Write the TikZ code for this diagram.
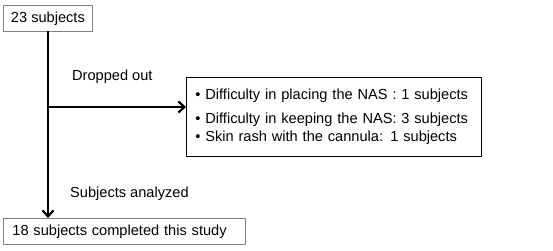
\documentclass[tikz,border=0pt]{standalone}
\usepackage{fontspec}
\setmainfont{Liberation Sans}
\usetikzlibrary{arrows.meta,positioning}
\begin{document}
\begin{tikzpicture}[x=1pt,y=-1pt,line cap=round,line join=round]
  \tikzset{
    stagebox/.style={draw=gray,line width=0.8pt,anchor=north west,inner ysep=0pt,inner xsep=9pt,
      font=\fontsize{14.6}{17}\selectfont},
    flow/.style={draw=black,line width=2.6pt,-{Straight Barb[length=6pt,width=11pt,line width=2.2pt]}},
    flowlabel/.style={anchor=west,font=\fontsize{14.6}{17}\selectfont,inner sep=0pt}
  }
  \useasboundingbox (0,0) rectangle (553,250);
  % Boxes are placed at the pixel positions of the picture.
  \node[stagebox,inner xsep=0pt,minimum width=89pt,minimum height=26pt] (start) at (3,5) {23 subjects};
  \node[stagebox,minimum height=26pt,text width=224pt,align=left]
    (done) at (3,218) {18 subjects completed this study};
  \node[stagebox,draw=black,minimum height=79pt,text width=277pt,align=left]
    (drop) at (186,77) {%
      \textbullet\ Difficulty in placing the NAS : 1 subjects\\[7pt]
      \textbullet\ Difficulty in keeping the NAS: 3 subjects\\[1pt]
      \textbullet\ Skin rash with the cannula: 1 subjects};
  % Main line down, branch to the right for drop-outs.
  \coordinate (branch) at (48,107);
  \draw[flow] (start.south -| branch) -- (branch |- done.north);
  \draw[flow] (branch) -- (branch -| drop.west);
  \node[flowlabel] (droplabel) at (72,77) {Dropped out};
  \node[flowlabel] (donelabel) at (70,194) {Subjects analyzed};
\end{tikzpicture}
\end{document}
